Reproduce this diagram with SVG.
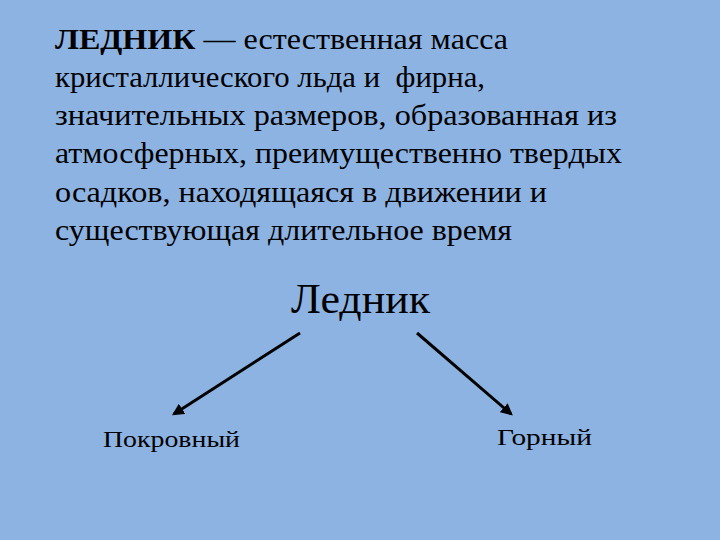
<svg xmlns="http://www.w3.org/2000/svg" width="720" height="540" viewBox="0 0 720 540">
<defs>
<style>
.t{font-family:"Liberation Serif",serif;fill:#000}
.c{stroke:#000;stroke-width:3;fill:none;marker-end:url(#a)}
</style>
<marker id="a" viewBox="0 0 10 10" refX="8" refY="5" markerWidth="4" markerHeight="4" orient="auto"><path d="M0,0L10,5L0,10z" fill="#000"/></marker>
</defs>
<rect width="720" height="540" fill="#8DB3E2"/>
<g id="def" class="t" font-size="30" lengthAdjust="spacingAndGlyphs">
<text x="55" y="49" textLength="453" lengthAdjust="spacingAndGlyphs"><tspan font-weight="bold">ЛЕДНИК</tspan> — естественная масса</text>
<text x="55" y="87" textLength="430" lengthAdjust="spacingAndGlyphs" xml:space="preserve">кристаллического льда и  фирна,</text>
<text x="55" y="125" textLength="562" lengthAdjust="spacingAndGlyphs">значительных размеров, образованная из</text>
<text x="55" y="163" textLength="567" lengthAdjust="spacingAndGlyphs">атмосферных, преимущественно твердых</text>
<text x="55" y="202" textLength="492" lengthAdjust="spacingAndGlyphs">осадков, находящаяся в движении и</text>
<text x="55" y="240" textLength="457" lengthAdjust="spacingAndGlyphs">существующая длительное время</text>
</g>
<g id="root"><text class="t" x="291" y="313" font-size="42" textLength="139" lengthAdjust="spacingAndGlyphs">Ледник</text></g>
<g id="n1"><text class="t" x="103" y="447" font-size="23" textLength="137" lengthAdjust="spacingAndGlyphs">Покровный</text></g>
<g id="n2"><text class="t" x="497" y="445" font-size="23" textLength="95" lengthAdjust="spacingAndGlyphs">Горный</text></g>
<g id="connectors">
<line class="c" x1="300" y1="333" x2="174" y2="414"/>
<line class="c" x1="417" y1="333" x2="511" y2="414"/>
</g>
</svg>
